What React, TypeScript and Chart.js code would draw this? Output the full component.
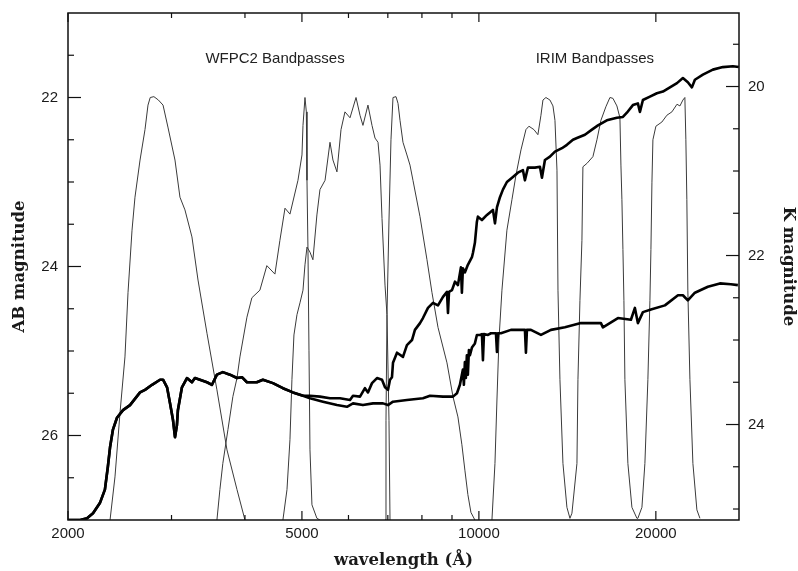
import React, { useEffect, useRef } from 'react';
import { Chart, registerables } from 'chart.js';

Chart.register(...registerables);

// ---------- axis settings / tick labels ----------
const WAVE_MIN = 2000;
const WAVE_MAX = 27700;
const AB_MIN = 21;
const AB_MAX = 27;
const K_OFFSET = 1.87; // K = AB - offset
const WAVE_TICKS = [2000, 3000, 4000, 5000, 6000, 7000, 8000, 9000, 10000, 20000];
const WAVE_LABELS = [2000, 5000, 10000, 20000];
const AB_LABELS = [22, 24, 26];
const K_LABELS = [20, 22, 24];

const BAND_LABELS = ['WFPC2 Bandpasses', 'IRIM Bandpasses'];
const BAND_LABEL_WAVE = [4500, 15750];
const BAND_LABEL_MAG = 21.54;

// ---------- thick spectra (AB mag) ----------
const SHARED_WAVE = [2000, 2098, 2155, 2206, 2266, 2311, 2338, 2358, 2385, 2423, 2481, 2550, 2652, 2704, 2780, 2868, 2902, 2948, 2983, 3018, 3041, 3064, 3076, 3125, 3187, 3250, 3288, 3353, 3447, 3515, 3584, 3668, 3771, 3877, 3953, 4031, 4190, 4291, 4463, 4641, 4827, 5021];
const SHARED_MAG = [27.0, 27.0, 26.98, 26.92, 26.80, 26.64, 26.37, 26.14, 25.93, 25.79, 25.70, 25.64, 25.49, 25.46, 25.40, 25.34, 25.34, 25.43, 25.62, 25.82, 26.02, 25.88, 25.70, 25.43, 25.32, 25.37, 25.32, 25.34, 25.37, 25.40, 25.28, 25.25, 25.28, 25.32, 25.31, 25.37, 25.37, 25.34, 25.38, 25.44, 25.49, 25.53];

const RED_WAVE = [5160, 5366, 5581, 5804, 6036, 6107, 6277, 6400, 6476, 6579, 6709, 6842, 6923, 7004, 7060, 7115, 7143, 7256, 7428, 7544, 7695, 7784, 7940, 8033, 8192, 8354, 8520, 8688, 8825, 8860, 8895, 9000, 9106, 9212, 9320, 9356, 9393, 9466, 9578, 9731, 9769, 9845, 9922, 9961, 10120, 10320, 10443, 10566, 10650, 10733, 10860, 10987, 11160, 11427, 11650, 11883, 11976, 12118, 12454, 12702, 12802, 12952, 13209, 13471, 13845, 14117, 14454, 14683, 15150, 15570, 15942, 16508, 17170, 17580, 17855, 18280, 18640, 18791, 19012, 19542, 20082, 20560, 21134, 21726, 22236, 22670, 23034, 23305, 24047, 25007, 26005, 27044, 27683];
const RED_MAG = [25.53, 25.54, 25.56, 25.56, 25.58, 25.53, 25.54, 25.44, 25.49, 25.38, 25.32, 25.34, 25.43, 25.46, 25.34, 25.31, 25.14, 25.02, 25.07, 24.93, 24.87, 24.75, 24.67, 24.61, 24.49, 24.43, 24.46, 24.36, 24.30, 24.55, 24.30, 24.28, 24.18, 24.22, 24.01, 24.31, 24.02, 24.07, 23.98, 23.89, 23.84, 23.72, 23.47, 23.41, 23.45, 23.39, 23.36, 23.33, 23.49, 23.30, 23.18, 23.09, 23.00, 22.94, 22.89, 22.86, 22.98, 22.83, 22.83, 22.82, 22.95, 22.74, 22.70, 22.64, 22.60, 22.56, 22.50, 22.48, 22.44, 22.38, 22.33, 22.27, 22.24, 22.23, 22.18, 22.09, 22.07, 22.17, 22.03, 21.99, 21.95, 21.93, 21.88, 21.83, 21.77, 21.82, 21.88, 21.79, 21.73, 21.67, 21.64, 21.63, 21.64];

const BLUE_WAVE = [5160, 5430, 5735, 5964, 6107, 6350, 6605, 6869, 7004, 7143, 7544, 8033, 8257, 8688, 9035, 9177, 9284, 9393, 9430, 9466, 9503, 9540, 9578, 9617, 9656, 9731, 9845, 9922, 10042, 10120, 10160, 10200, 10360, 10484, 10691, 10733, 10775, 10902, 11338, 11976, 12023, 12070, 12261, 12752, 13261, 14007, 14914, 16129, 16255, 17240, 18140, 18424, 18640, 19012, 19618, 20722, 21810, 22236, 22670, 23305, 24520, 25705, 26834, 27577];
const BLUE_MAG = [25.56, 25.60, 25.64, 25.66, 25.62, 25.64, 25.62, 25.62, 25.64, 25.60, 25.58, 25.56, 25.53, 25.54, 25.54, 25.50, 25.40, 25.22, 25.40, 25.13, 25.32, 25.05, 25.28, 24.99, 25.05, 24.96, 24.91, 24.81, 24.81, 24.80, 25.11, 24.80, 24.81, 24.79, 24.79, 25.01, 24.79, 24.79, 24.75, 24.75, 25.02, 24.75, 24.75, 24.81, 24.75, 24.72, 24.67, 24.67, 24.72, 24.61, 24.63, 24.49, 24.67, 24.54, 24.51, 24.46, 24.34, 24.34, 24.40, 24.31, 24.24, 24.20, 24.21, 24.22];

// ---------- bandpasses ----------
const F300W_WAVE = [2358, 2404, 2452, 2500, 2530, 2570, 2600, 2652, 2704, 2736, 2760, 2800, 2850, 2902, 2958, 3041, 3101, 3162, 3250, 3328, 3447, 3584, 3728, 3877, 4000];
const F300W_MAG = [27.0, 26.49, 25.73, 25.07, 24.31, 23.57, 23.18, 22.74, 22.38, 22.09, 22.0, 21.99, 22.03, 22.09, 22.35, 22.74, 23.18, 23.33, 23.65, 24.16, 24.79, 25.46, 26.17, 26.64, 27.0];

const F450W_WAVE = [3584, 3626, 3668, 3742, 3815, 3877, 3922, 4031, 4110, 4241, 4358, 4498, 4587, 4679, 4771, 4923, 5001, 5021, 5060, 5087, 5100, 5120, 5140, 5160, 5200, 5302, 5366];
const F450W_MAG = [27.0, 26.64, 26.33, 25.93, 25.54, 25.32, 25.07, 24.60, 24.37, 24.28, 23.99, 24.09, 23.69, 23.31, 23.38, 22.98, 22.68, 22.33, 22.0, 22.17, 22.98, 23.80, 24.99, 26.17, 26.82, 26.98, 27.0];

const F606W_WAVE = [4641, 4716, 4771, 4808, 4846, 4904, 4962, 5021, 5060, 5100, 5160, 5220, 5302, 5366, 5474, 5581, 5646, 5735, 5827, 5918, 6036, 6180, 6277, 6350, 6476, 6579, 6657, 6736, 6789, 6842, 6923, 6977, 7032, 7060];
const F606W_MAG = [27.0, 26.64, 26.05, 25.34, 24.81, 24.57, 24.43, 24.28, 23.98, 23.77, 23.83, 23.92, 23.39, 23.09, 22.98, 22.53, 22.74, 22.88, 22.38, 22.17, 22.24, 22.0, 22.21, 22.33, 22.09, 22.33, 22.48, 22.53, 22.80, 23.43, 24.22, 24.57, 25.82, 27.0];

const F814W_WAVE = [6923, 6950, 6977, 7032, 7087, 7143, 7228, 7285, 7342, 7428, 7544, 7635, 7724, 7940, 8160, 8322, 8520, 8825, 9035, 9212, 9356, 9466, 9578, 9693, 9845];
const F814W_MAG = [27.0, 25.82, 24.57, 23.45, 22.50, 22.0, 21.99, 22.07, 22.27, 22.53, 22.68, 22.80, 22.98, 23.41, 23.92, 24.31, 24.72, 25.14, 25.54, 25.78, 26.11, 26.41, 26.70, 26.91, 27.0];

const J_WAVE = [10525, 10650, 10733, 10817, 10945, 11160, 11382, 11562, 11792, 12023, 12166, 12406, 12600, 12752, 12852, 13003, 13209, 13366, 13471, 13578, 13631, 13737, 13899, 14117, 14286];
const J_MAG = [27.0, 26.33, 25.58, 24.87, 24.28, 23.57, 23.21, 22.92, 22.62, 22.38, 22.34, 22.38, 22.44, 22.21, 22.03, 22.0, 22.03, 22.10, 22.27, 22.86, 24.28, 25.34, 26.33, 26.85, 26.98];

const H_WAVE = [14286, 14397, 14683, 14740, 14856, 14972, 15030, 15268, 15630, 15879, 16129, 16444, 16708, 16905, 17170, 17375, 17443, 17511, 17580, 17648, 17717, 17925, 18210, 18570];
const H_MAG = [26.98, 26.92, 26.33, 25.34, 24.40, 23.69, 22.82, 22.78, 22.70, 22.50, 22.27, 22.11, 22.0, 22.01, 22.10, 22.24, 22.80, 23.21, 23.80, 24.40, 25.34, 26.33, 26.85, 26.98];

const K_WAVE = [18570, 18640, 18939, 19160, 19385, 19542, 19618, 19695, 19771, 20004, 20480, 20883, 21299, 21726, 21978, 22236, 22407, 22495, 22582, 22670, 22856, 23124, 23488, 23769];
const K_MAG = [26.98, 26.98, 26.85, 26.33, 25.34, 24.40, 23.80, 23.01, 22.50, 22.34, 22.29, 22.21, 22.17, 22.08, 22.10, 22.03, 22.0, 22.50, 23.21, 24.28, 25.34, 26.33, 26.88, 26.98];

const toPoints = (w: number[], m: number[]) => w.map((x, i) => ({ x, y: m[i] }));

const TICK_FONT = { family: '"Liberation Sans", Arial, Helvetica, sans-serif', size: 15 };
const TITLE_FONT = { family: '"DejaVu Serif", serif', size: 16.5, weight: 'bold' as const };

const framePlugin = {
  id: 'frameTicks',
  afterDraw(chart: any) {
    const { ctx, chartArea } = chart;
    const { left, right, top, bottom } = chartArea;
    const xs = chart.scales.x;
    const ys = chart.scales.y;
    const ks = chart.scales.y2;
    ctx.save();
    ctx.strokeStyle = '#111';
    ctx.lineWidth = 1.5;
    ctx.strokeRect(left, top, right - left, bottom - top);
    ctx.lineWidth = 1.2;
    const seg = (x1: number, y1: number, x2: number, y2: number) => {
      ctx.beginPath();
      ctx.moveTo(x1, y1);
      ctx.lineTo(x2, y2);
      ctx.stroke();
    };
    WAVE_TICKS.forEach((v) => {
      const p = xs.getPixelForValue(v);
      const len = WAVE_LABELS.includes(v) ? 9 : 5;
      seg(p, bottom, p, bottom - len);
      seg(p, top, p, top + len);
    });
    for (let v = AB_MIN + 0.5; v < AB_MAX; v += 0.5) {
      const p = ys.getPixelForValue(v);
      const len = AB_LABELS.includes(v) ? 13 : 6;
      seg(left, p, left + len, p);
    }
    const kMin = AB_MIN - K_OFFSET;
    const kMax = AB_MAX - K_OFFSET;
    for (let v = Math.ceil(kMin * 2) / 2; v < kMax; v += 0.5) {
      const p = ks.getPixelForValue(v);
      const len = K_LABELS.includes(v) ? 13 : 6;
      seg(right, p, right - len, p);
    }
    ctx.fillStyle = '#222';
    ctx.font = '15px "Liberation Sans", Arial, sans-serif';
    ctx.textAlign = 'center';
    ctx.textBaseline = 'middle';
    BAND_LABELS.forEach((t, i) => {
      ctx.fillText(t, xs.getPixelForValue(BAND_LABEL_WAVE[i]), ys.getPixelForValue(BAND_LABEL_MAG));
    });
    ctx.restore();
  },
};

export default function App() {
  const ref = useRef<HTMLCanvasElement>(null);
  useEffect(() => {
    const thick = (label: string, w: number[], m: number[]) => ({
      label,
      data: toPoints(w, m),
      showLine: true,
      borderColor: '#000',
      borderWidth: 2.6,
      pointRadius: 0,
      fill: false,
      tension: 0,
      borderJoinStyle: 'round' as const,
      yAxisID: 'y',
    });
    const thin = (label: string, w: number[], m: number[]) => ({
      label,
      data: toPoints(w, m),
      showLine: true,
      borderColor: '#3a3a3a',
      borderWidth: 1,
      pointRadius: 0,
      fill: false,
      tension: 0,
      yAxisID: 'y',
    });
    const chart = new Chart(ref.current as HTMLCanvasElement, {
      type: 'scatter',
      data: {
        datasets: [
          thick('red galaxy', [...SHARED_WAVE, ...RED_WAVE], [...SHARED_MAG, ...RED_MAG]),
          thick('blue galaxy', [...SHARED_WAVE, ...BLUE_WAVE], [...SHARED_MAG, ...BLUE_MAG]),
          thin('F300W', F300W_WAVE, F300W_MAG),
          thin('F450W', F450W_WAVE, F450W_MAG),
          thin('F606W', F606W_WAVE, F606W_MAG),
          thin('F814W', F814W_WAVE, F814W_MAG),
          thin('J', J_WAVE, J_MAG),
          thin('H', H_WAVE, H_MAG),
          thin('K', K_WAVE, K_MAG),
        ],
      },
      options: {
        responsive: false,
        devicePixelRatio: 1,
        animation: false,
        layout: { padding: { top: 13, left: 0, right: 0, bottom: 0 } },
        plugins: { legend: { display: false }, tooltip: { enabled: false } },
        scales: {
          x: {
            type: 'logarithmic',
            min: WAVE_MIN,
            max: WAVE_MAX,
            afterBuildTicks: (s: any) => {
              s.ticks = WAVE_TICKS.map((v) => ({ value: v }));
            },
            afterFit: (s: any) => {
              s.height = 51;
              s.paddingLeft = 0;
              s.paddingRight = 0;
            },
            grid: { display: false, drawTicks: false },
            border: { display: false },
            ticks: {
              autoSkip: false,
              maxRotation: 0,
              padding: 5,
              color: '#1a1a1a',
              font: TICK_FONT,
              callback: (v: any) => (WAVE_LABELS.includes(Number(v)) ? String(v) : ''),
            },
            title: { display: true, text: 'wavelength (Å)', color: '#1a1a1a', font: TITLE_FONT, padding: { top: 0, bottom: 0 } },
          },
          y: {
            type: 'linear',
            position: 'left',
            reverse: true,
            min: AB_MIN,
            max: AB_MAX,
            afterBuildTicks: (s: any) => {
              s.ticks = AB_LABELS.map((v) => ({ value: v }));
            },
            afterFit: (s: any) => {
              s.width = 68;
              s.paddingTop = 0;
              s.paddingBottom = 0;
            },
            grid: { display: false, drawTicks: false },
            border: { display: false },
            ticks: { padding: 10, color: '#1a1a1a', font: TICK_FONT, callback: (v: any) => String(v) },
            title: { display: true, text: 'AB magnitude', color: '#1a1a1a', font: TITLE_FONT, padding: { top: 10, bottom: 0 } },
          },
          y2: {
            type: 'linear',
            position: 'right',
            reverse: true,
            min: AB_MIN - K_OFFSET,
            max: AB_MAX - K_OFFSET,
            afterBuildTicks: (s: any) => {
              s.ticks = K_LABELS.map((v) => ({ value: v }));
            },
            afterFit: (s: any) => {
              s.width = 59;
              s.paddingTop = 0;
              s.paddingBottom = 0;
            },
            grid: { display: false, drawTicks: false },
            border: { display: false },
            ticks: { padding: 9, color: '#1a1a1a', font: TICK_FONT, callback: (v: any) => String(v) },
            title: { display: true, text: 'K magnitude', color: '#1a1a1a', font: TITLE_FONT, padding: { top: 0, bottom: 0 } },
          },
        },
      } as any,
      plugins: [framePlugin],
    });
    return () => chart.destroy();
  }, []);
  return (
    <div style={{ position: 'absolute', left: 0, top: 0, width: 798, height: 571, background: '#fff' }}>
      <canvas ref={ref} width={798} height={571} style={{ display: 'block' }} />
    </div>
  );
}
